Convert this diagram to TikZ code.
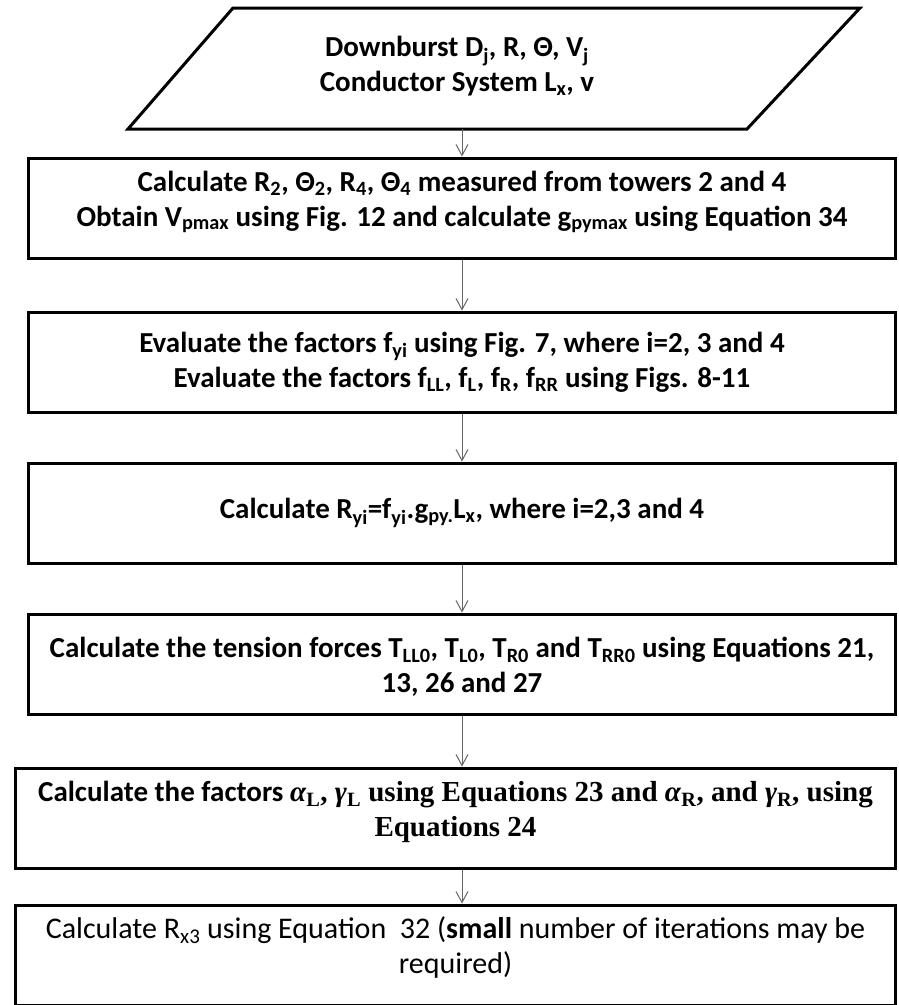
\documentclass[tikz,border=0pt]{standalone}
\usepackage{fontspec}
\setmainfont{Carlito}
\newfontfamily\timesfont{Liberation Serif}
\usetikzlibrary{arrows.meta}

% subscript helper
\newcommand{\sbs}[1]{\textsubscript{#1}}

\begin{document}
\begin{tikzpicture}[x=1pt,y=-1pt,
  txt/.style={font=\bfseries\fontsize{29}{35}\selectfont, align=center, inner sep=0pt},
  stepbox/.style={draw=black, line width=3pt, fill=white, minimum height=100pt, inner sep=0pt},
  link/.style={draw=black!60, line width=1pt, -{Straight Barb[length=11pt,width=12pt,line width=1pt]}}]
  \useasboundingbox (0,0) rectangle (898,1005);
  \fill[white] (0,0) rectangle (898,1005);

  % input parallelogram
  \draw[line width=3pt, line join=miter] (233,8) -- (860,8) -- (747,129) -- (128,129) -- cycle;
  \node[txt] (input) at (457,66) {Downburst D\sbs{j}, R, Θ, V\sbs{j}\\Conductor System L\sbs{x}, v};
  \coordinate (inbot) at (462,129);

  % process steps (boxes, with their text placed as centre labels)
  \node[stepbox, minimum width=867pt, label={[txt, yshift=6pt]center:{%
      Calculate R\sbs{2}, Θ\sbs{2}, R\sbs{4}, Θ\sbs{4} measured from towers 2 and 4\\
      Obtain V\sbs{pmax} using Fig. 12 and calculate g\sbs{pymax} using Equation 34}}] (s1) at (462,208) {};
  \node[stepbox, minimum width=867pt, label={[txt]center:{%
      Evaluate the factors f\sbs{yi} using Fig. 7, where i=2, 3 and 4\\
      Evaluate the factors f\sbs{LL}, f\sbs{L}, f\sbs{R}, f\sbs{RR} using Figs. 8-11}}] (s2) at (462,362) {};
  \node[stepbox, minimum width=867pt, label={[txt]center:{%
      Calculate R\sbs{yi}=f\sbs{yi}.g\sbs{py.}L\sbs{x}, where i=2,3 and 4}}] (s3) at (462,513) {};
  \node[stepbox, minimum width=867pt, label={[txt, yshift=-3pt]center:{%
      Calculate the tension forces T\sbs{LL0}, T\sbs{L0}, T\sbs{R0} and T\sbs{RR0} using Equations 21,\\
      13, 26 and 27}}] (s4) at (462,664) {};
  \node[stepbox, minimum width=880pt, label={[txt, yshift=6pt]center:{%
      Calculate the factors {\timesfont\bfseries\textit{α}\sbs{L}, \textit{γ}\sbs{L} using Equations 23 and \textit{α}\sbs{R}, and \textit{γ}\sbs{R}, using}\\
      {\timesfont\bfseries Equations 24}}}] (s5) at (455.5,818) {};
  \node[stepbox, minimum width=880pt, label={[txt, font=\mdseries\fontsize{30}{35}\selectfont, yshift=8pt]center:{%
      Calculate R\sbs{x3} using Equation\ \ 32 (\textbf{small} number of iterations may be\\
      required)}}] (s6) at (455.5,955) {};

  % connectors
  \draw[link] (inbot) -- (s1.north);
  \draw[link] (s1.south) -- (s2.north);
  \draw[link] (s2.south) -- (s3.north);
  \draw[link] (s3.south) -- (s4.north);
  \draw[link] (s4.south) -- (s5.north -| s4.south);
  \draw[link] (s5.south -| s4.south) -- (s6.north -| s4.south);
\end{tikzpicture}
\end{document}
